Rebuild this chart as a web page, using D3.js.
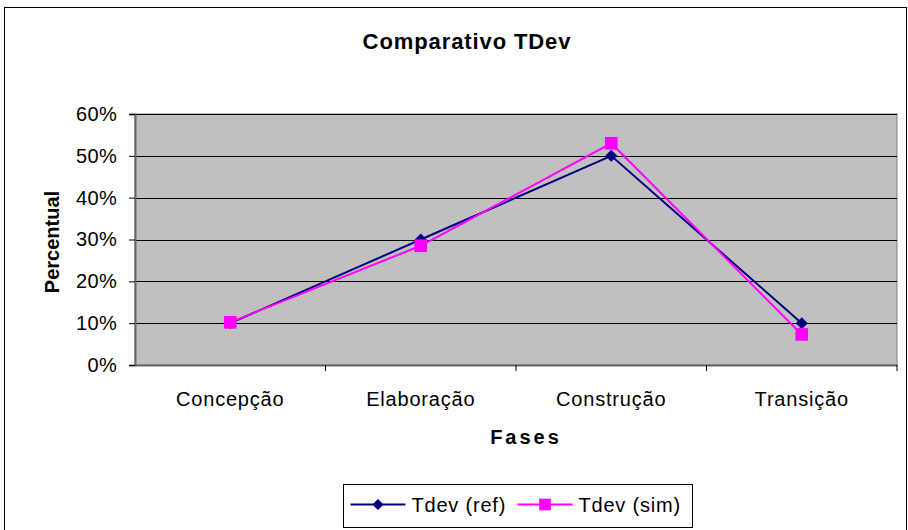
<!DOCTYPE html>
<html>
<head>
<meta charset="utf-8">
<script src="https://cdn.jsdelivr.net/npm/d3@7"></script>
<style>
  body { margin: 0; background: #fff; }
  svg text { font-family: "Liberation Sans", Arial, sans-serif; }
</style>
</head>
<body>
<div id="graph"></div>
<script>
// données
var fases = ["Concepção", "Elaboração", "Construção", "Transição"];
var tdevRef = [0.10, 0.30, 0.50, 0.10];
var tdevSim = [0.102, 0.285, 0.53, 0.073];
var yTicks = [0, 0.1, 0.2, 0.3, 0.4, 0.5, 0.6];
var seriesNames = ["Tdev (ref)", "Tdev (sim)"];

var totalWidth = 908, totalHeight = 530,
    margin = {top: 114, right: 11, bottom: 165, left: 135},
    width = totalWidth - margin.left - margin.right,
    height = totalHeight - margin.top - margin.bottom;

var x = d3.scaleBand()
    .domain(fases)
    .range([0, width]),
    y = d3.scaleLinear()
    .domain([0, 0.6])
    .range([height, 0]);

var root = d3.select("#graph").append("svg")
    .attr("width", totalWidth)
    .attr("height", totalHeight);

// cadre du graphique
root.append("rect")
    .attr("x", 4.5)
    .attr("y", 7.5)
    .attr("width", 902)
    .attr("height", 530)
    .attr("fill", "#fff")
    .attr("stroke", "#000")
    .attr("stroke-width", 1);

root.append("text")
    .attr("x", 467)
    .attr("y", 49)
    .attr("text-anchor", "middle")
    .attr("font-size", "22px")
    .attr("font-weight", "bold")
    .attr("letter-spacing", "0.9px")
    .text("Comparativo TDev");

var svg = root.append("g")
    .attr("transform", "translate(" + margin.left + "," + margin.top + ")");

// zone de tracé
svg.append("rect")
    .attr("width", width)
    .attr("height", height)
    .attr("fill", "#c0c0c0")
    .attr("stroke", "#808080")
    .attr("stroke-width", 1);

// lignes de grille
svg.selectAll(".grid")
    .data(yTicks.slice(1))
    .enter().append("line")
    .attr("x1", 0)
    .attr("x2", width)
    .attr("y1", function(d) { return Math.round(y(d)) + 0.5; })
    .attr("y2", function(d) { return Math.round(y(d)) + 0.5; })
    .attr("stroke", "#000")
    .attr("stroke-width", 1);

// axes
var yAxis = svg.append("g")
    .call(d3.axisLeft(y).tickValues(yTicks).tickFormat(d3.format(".0%")).tickSizeOuter(0).tickSize(6).tickPadding(12));
yAxis.selectAll("text").attr("font-size", "20px").attr("letter-spacing", "0.3px").attr("fill", "#000");
yAxis.selectAll("line").attr("stroke", "#000");
yAxis.select(".domain").attr("stroke", "#666").attr("stroke-width", 2);

var xAxis = svg.append("g")
    .attr("transform", "translate(0," + height + ")")
    .call(d3.axisBottom(x).tickSize(0).tickPadding(27));
xAxis.select(".domain").attr("stroke", "#666").attr("stroke-width", 2);
xAxis.selectAll("text").attr("font-size", "20px").attr("letter-spacing", "0.8px").attr("fill", "#000");
svg.selectAll(".xtick")
    .data(fases.slice(1).concat(["__end"]))
    .enter().append("line")
    .attr("x1", function(d, i) { return i < fases.length - 1 ? x(d) : width; })
    .attr("x2", function(d, i) { return i < fases.length - 1 ? x(d) : width; })
    .attr("y1", height)
    .attr("y2", height + 6)
    .attr("stroke", "#000");

// titres des axes
svg.append("text")
    .attr("transform", "rotate(-90)")
    .attr("x", -128)
    .attr("y", -76)
    .attr("text-anchor", "middle")
    .attr("font-size", "20px")
    .attr("font-weight", "bold")
    .text("Percentual");
svg.append("text")
    .attr("x", width / 2 + 10)
    .attr("y", height + 79)
    .attr("text-anchor", "middle")
    .attr("font-size", "20px")
    .attr("font-weight", "bold")
    .attr("letter-spacing", "3px")
    .text("Fases");

// séries
var cx = function(i) { return x(fases[i]) + x.bandwidth() / 2; };
var ligne = d3.line()
    .x(function(d, i) { return cx(i); })
    .y(function(d) { return y(d); });

var series = [
    {name: seriesNames[0], values: tdevRef, color: "#000080", symbol: d3.symbolSquare, size: 72, rotate: 45},
    {name: seriesNames[1], values: tdevSim, color: "#ff00ff", symbol: d3.symbolSquare, size: 160, rotate: 0}
];

series.forEach(function(s) {
    svg.append("path")
        .datum(s.values)
        .attr("fill", "none")
        .attr("stroke", s.color)
        .attr("stroke-width", 2)
        .attr("d", ligne);
});
series.forEach(function(s) {
    svg.selectAll(null)
        .data(s.values)
        .enter().append("path")
        .attr("transform", function(d, i) { return "translate(" + cx(i) + "," + y(d) + ") rotate(" + s.rotate + ")"; })
        .attr("d", d3.symbol().type(s.symbol).size(s.size))
        .attr("fill", s.color);
});

// légende
var legend = root.append("g").attr("transform", "translate(343.5,484.5)");
legend.append("rect")
    .attr("width", 349)
    .attr("height", 43)
    .attr("fill", "#fff")
    .attr("stroke", "#000");
var legendX = [7, 174];
series.forEach(function(s, i) {
    var g = legend.append("g").attr("transform", "translate(" + legendX[i] + ",20)");
    g.append("line")
        .attr("x1", 0).attr("x2", 55)
        .attr("stroke", s.color).attr("stroke-width", 2);
    g.append("path")
        .attr("transform", "translate(27.5,0) rotate(" + s.rotate + ")")
        .attr("d", d3.symbol().type(s.symbol).size(s.size * 0.85))
        .attr("fill", s.color);
    g.append("text")
        .attr("x", 61)
        .attr("y", 7)
        .attr("font-size", "20px")
        .attr("letter-spacing", "0.8px")
        .text(s.name);
});
</script>
</body>
</html>
